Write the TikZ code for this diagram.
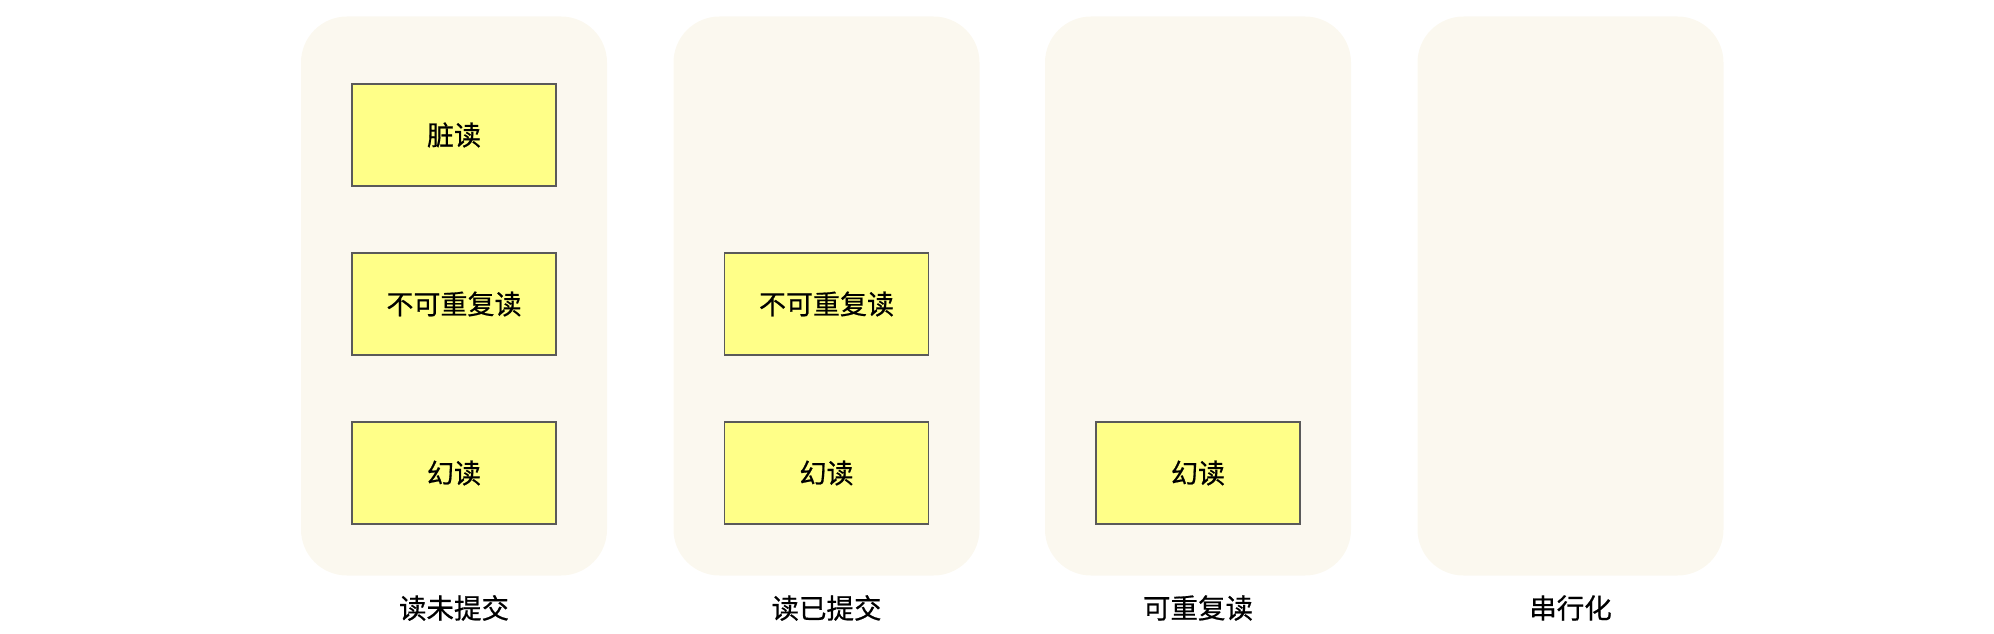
\documentclass[tikz,border=0pt]{standalone}
\usepackage{fontspec}
\newfontfamily\cjk[FakeBold=0.6]{Noto Sans CJK SC}
\definecolor{panelfill}{HTML}{FBF8EF}
\definecolor{boxfill}{HTML}{FFFF88}
\definecolor{boxline}{HTML}{5A5A5A}
\tikzset{
  panel/.style={fill=panelfill, draw=none, rounded corners=46pt, minimum width=306pt, minimum height=559pt, inner sep=0pt},
  anomaly/.style={fill=boxfill, draw=boxline, line width=1.3pt, minimum width=204pt, minimum height=102pt, inner sep=0pt, font=\cjk\fontsize{27}{32}\selectfont},
  caption/.style={font=\cjk\fontsize{27.5}{33}\selectfont, inner sep=0pt}
}
\begin{document}
\begin{tikzpicture}[x=1pt,y=-1pt]
\useasboundingbox (0,0) rectangle (1994,634);
% panels
\node[panel] (p1) at (454,296) {};
\node[panel] (p2) at (826.5,296) {};
\node[panel] (p3) at (1198,296) {};
\node[panel] (p4) at (1570.5,296) {};
% boxes
\node[anomaly] (a1) at (454,135) {脏读};
\node[anomaly] (a2) at (454,304) {不可重复读};
\node[anomaly] (a3) at (454,473) {幻读};
\node[anomaly] (b2) at (826.5,304) {不可重复读};
\node[anomaly] (b3) at (826.5,473) {幻读};
\node[anomaly] (c3) at (1198,473) {幻读};
% captions
\node[caption] (l1) at (454,608) {读未提交};
\node[caption] (l2) at (826.5,608) {读已提交};
\node[caption] (l3) at (1198,608) {可重复读};
\node[caption] (l4) at (1570.5,608) {串行化};
\end{tikzpicture}
\end{document}
